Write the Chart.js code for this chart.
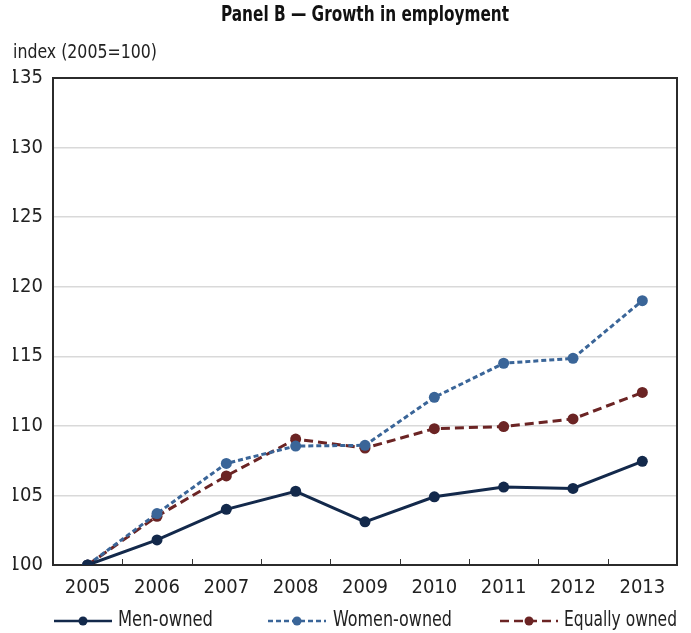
<!DOCTYPE html>
<html>
<head>
<meta charset="utf-8">
<script src="https://cdn.jsdelivr.net/npm/chart.js@4.4.1/dist/chart.umd.min.js"></script>
<style>
  body { margin: 0; background: #fff; }
  canvas { display: block; }
</style>
</head>
<body>
<canvas id="chart" width="691" height="633"></canvas>
<script>
// data
const years = ['2005', '2006', '2007', '2008', '2009', '2010', '2011', '2012', '2013'];
const menOwned = [100, 101.8, 104.0, 105.3, 103.1, 104.9, 105.6, 105.5, 107.45];
const womenOwned = [100, 103.7, 107.3, 108.55, 108.6, 112.05, 114.5, 114.85, 119.0];
const equallyOwned = [100, 103.5, 106.4, 109.05, 108.4, 109.8, 109.95, 110.5, 112.4];
const yTicks = [100, 105, 110, 115, 120, 125, 130, 135];

const FONT = '"Liberation Sans Narrow", "Arial Narrow", "DejaVu Sans Condensed", sans-serif';
const TITLE = 'Panel B \u2014 Growth in employment';
const Y_LABEL = 'index (2005=100)';

// draw text squeezed to a given width (the original uses a condensed face)
function fitText(ctx, text, x, y, width) {
  const w = ctx.measureText(text).width;
  const k = Math.min(1, width / w);
  ctx.save();
  ctx.translate(x, y);
  ctx.scale(k, 1);
  ctx.fillText(text, 0, 0);
  ctx.restore();
}

// frame, inner ticks, title, y label and legend
const decorations = {
  id: 'decorations',
  beforeDatasetsDraw(chart) {
    const { ctx, chartArea: a, scales } = chart;
    ctx.save();
    // inward ticks between categories
    ctx.strokeStyle = '#333';
    ctx.lineWidth = 1;
    for (let i = 1; i < years.length; i++) {
      const x = Math.round((scales.x.getPixelForValue(i - 1) + scales.x.getPixelForValue(i)) / 2) + 0.5;
      ctx.beginPath();
      ctx.moveTo(x, a.bottom);
      ctx.lineTo(x, a.bottom - 6);
      ctx.stroke();
    }
    // frame
    ctx.strokeStyle = '#2b2b2b';
    ctx.lineWidth = 2;
    ctx.strokeRect(a.left, a.top, a.right - a.left, a.bottom - a.top);
    ctx.restore();
  },
  afterDraw(chart) {
    const { ctx } = chart;
    ctx.save();
    ctx.textBaseline = 'middle';
    ctx.textAlign = 'left';
    ctx.fillStyle = '#111';
    ctx.font = 'bold 21px ' + FONT;
    fitText(ctx, TITLE, 221, 16, 288);
    ctx.font = '20px ' + FONT;
    ctx.fillStyle = '#222';
    fitText(ctx, Y_LABEL, 13, 53, 144);

    // legend
    const y = 621;
    const items = [
      { x: 54, textX: 118, w: 95 },
      { x: 268, textX: 333, w: 119 },
      { x: 500, textX: 564, w: 113 }
    ];
    chart.data.datasets.forEach((ds, i) => {
      const it = items[i];
      ctx.strokeStyle = ds.borderColor;
      ctx.lineWidth = 2.5;
      ctx.setLineDash(ds.borderDash || []);
      ctx.beginPath();
      ctx.moveTo(it.x, y);
      ctx.lineTo(it.x + 58, y);
      ctx.stroke();
      ctx.setLineDash([]);
      ctx.fillStyle = ds.borderColor;
      ctx.beginPath();
      ctx.arc(it.x + 29, y, 4.5, 0, Math.PI * 2);
      ctx.fill();
      ctx.fillStyle = '#222';
      ctx.font = '21px ' + FONT;
      fitText(ctx, ds.label, it.textX, y, it.w);
    });
    ctx.restore();
  }
};

new Chart(document.getElementById('chart'), {
  type: 'line',
  data: {
    labels: years,
    datasets: [
      {
        label: 'Men-owned',
        data: menOwned,
        borderColor: '#13294b',
        backgroundColor: '#13294b',
        borderWidth: 3,
        pointRadius: 5.5,
        pointBorderWidth: 0,
        tension: 0
      },
      {
        label: 'Women-owned',
        data: womenOwned,
        borderColor: '#3a6598',
        backgroundColor: '#3a6598',
        borderWidth: 3,
        borderDash: [5, 3],
        pointRadius: 5.5,
        pointBorderWidth: 0,
        tension: 0
      },
      {
        label: 'Equally owned',
        data: equallyOwned,
        borderColor: '#6b2424',
        backgroundColor: '#6b2424',
        borderWidth: 3,
        borderDash: [9, 5],
        pointRadius: 5.5,
        pointBorderWidth: 0,
        tension: 0
      }
    ]
  },
  options: {
    responsive: false,
    animation: false,
    layout: { padding: { top: 78, left: 13, right: 14, bottom: 32 } },
    plugins: {
      legend: { display: false },
      title: { display: false },
      tooltip: { enabled: false }
    },
    scales: {
      x: {
        offset: true,
        grid: { display: false, drawTicks: false },
        border: { display: false },
        ticks: { color: '#222', font: { family: FONT, size: 20 }, padding: 11, maxRotation: 0 },
        afterFit(scale) { scale.height = 36; }
      },
      y: {
        min: 100,
        max: 135,
        afterBuildTicks(scale) { scale.ticks = yTicks.map(v => ({ value: v })); },
        grid: { color: '#d9d9d9', lineWidth: 1.5, drawTicks: false },
        border: { display: false },
        ticks: { color: '#222', font: { family: FONT, size: 20 }, padding: 10 },
        afterFit(scale) { scale.width = 40; }
      }
    }
  },
  plugins: [decorations]
});
</script>
</body>
</html>
